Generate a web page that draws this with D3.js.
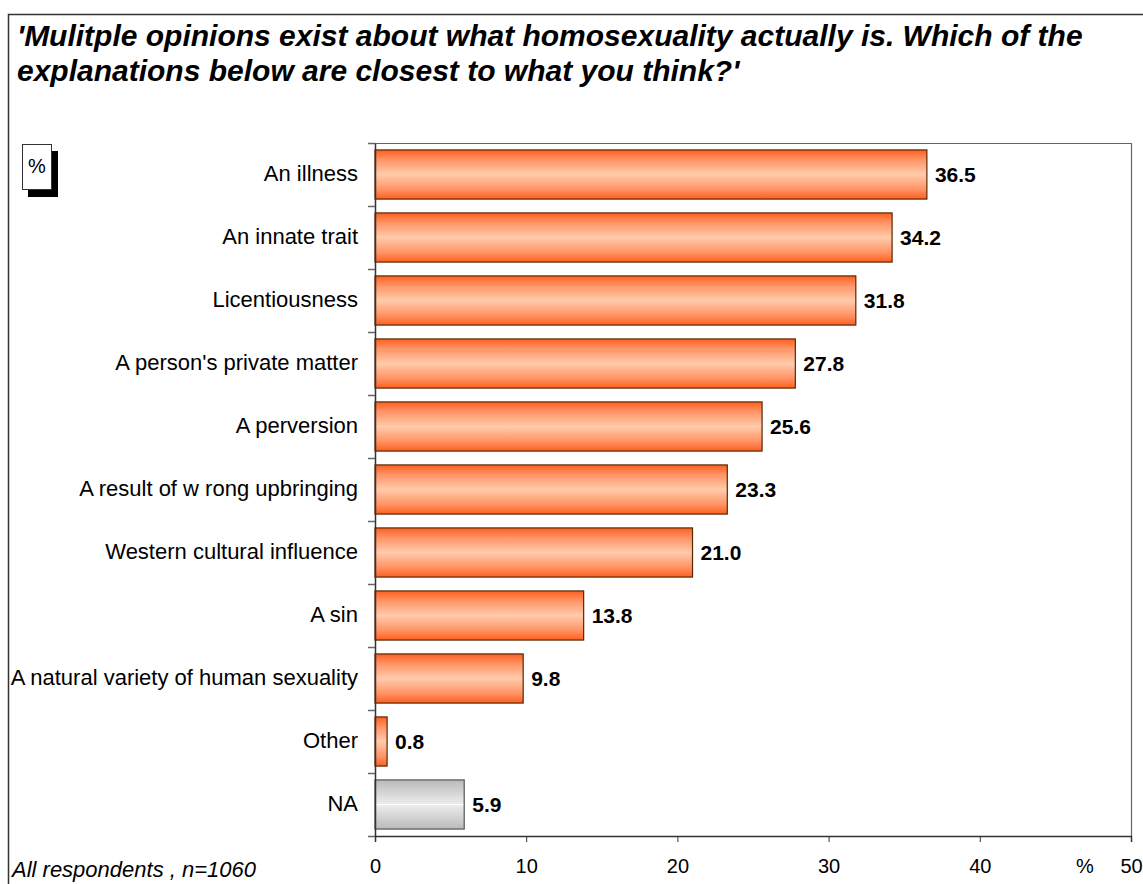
<!DOCTYPE html>
<html>
<head>
<meta charset="utf-8">
<script src="https://cdn.jsdelivr.net/npm/d3@7/dist/d3.min.js"></script>
<style>
  body { margin: 0; background: #fff; }
  text { font-family: "Liberation Sans", Arial, sans-serif; }
</style>
</head>
<body>
<div id="chart"></div>
<script>
// data
const categories = ["An illness", "An innate trait", "Licentiousness", "A person's private matter",
  "A perversion", "A result of w rong upbringing ", "Western cultural influence", "A sin",
  "A natural variety of human sexuality", "Other", "NA"];
const values = [36.5, 34.2, 31.8, 27.8, 25.6, 23.3, 21.0, 13.8, 9.8, 0.8, 5.9];
const xTicks = [0, 10, 20, 30, 40, 50];

const width = 1143, height = 884;
const margin = { top: 143, right: 12, bottom: 48, left: 375 };

const svg = d3.select("#chart").append("svg")
  .attr("width", width)
  .attr("height", height);

// gradients
const defs = svg.append("defs");
const orange = defs.append("linearGradient").attr("id", "gOrange")
  .attr("x1", 0).attr("y1", 0).attr("x2", 0).attr("y2", 1);
[[0, "#ff5f1f"], [0.2, "#ff9466"], [0.5, "#ffcbab"], [0.8, "#ff9466"], [1, "#ff5f1f"]]
  .forEach(s => orange.append("stop").attr("offset", s[0]).attr("stop-color", s[1]));
const grey = defs.append("linearGradient").attr("id", "gGrey")
  .attr("x1", 0).attr("y1", 0).attr("x2", 0).attr("y2", 1);
[[0, "#bababa"], [0.49, "#ececec"], [0.5, "#ffffff"], [0.51, "#ececec"], [1, "#bababa"]]
  .forEach(s => grey.append("stop").attr("offset", s[0]).attr("stop-color", s[1]));

// outer frame
svg.append("path")
  .attr("d", `M8.5,${height} V14.5 H${width}`)
  .attr("fill", "none").attr("stroke", "#333").attr("stroke-width", 1.5);

// title
const title = svg.append("text")
  .style("font-size", "30px").style("font-weight", "bold").style("font-style", "italic");
title.append("tspan").attr("x", 17).attr("y", 46)
  .text("'Mulitple opinions exist about what homosexuality actually is. Which of the");
title.append("tspan").attr("x", 17).attr("y", 81)
  .text("explanations below are closest to what you think?'");

// % box
svg.append("rect").attr("x", 28).attr("y", 151).attr("width", 30).attr("height", 46).attr("fill", "#000");
svg.append("rect").attr("x", 22.5).attr("y", 144.5).attr("width", 29).attr("height", 45)
  .attr("fill", "#fff").attr("stroke", "#333");
svg.append("text").attr("x", 37).attr("y", 173).attr("text-anchor", "middle")
  .style("font-size", "20px").text("%");

const x = d3.scaleLinear().domain([0, 50]).range([margin.left, width - margin.right]);
const y = d3.scaleBand().domain(categories)
  .range([margin.top, height - margin.bottom]).paddingInner(0.22).paddingOuter(0.11);

// plot frame (top + right)
svg.append("path")
  .attr("d", `M${x(0)},${margin.top + 0.5} H${x(50) + 0.5} V${height - margin.bottom}`)
  .attr("fill", "none").attr("stroke", "#666").attr("stroke-width", 1.2);

// bars
svg.selectAll("rect.bar")
  .data(values)
  .enter().append("rect")
  .attr("class", "bar")
  .attr("x", x(0))
  .attr("y", (d, i) => y(categories[i]))
  .attr("width", d => x(d) - x(0))
  .attr("height", y.bandwidth())
  .attr("fill", (d, i) => categories[i] === "NA" ? "url(#gGrey)" : "url(#gOrange)")
  .attr("stroke", (d, i) => categories[i] === "NA" ? "#555" : "#5a2800")
  .attr("stroke-width", 1.2);

// value labels
svg.selectAll("text.val")
  .data(values)
  .enter().append("text")
  .attr("class", "val")
  .attr("x", d => x(d) + 8)
  .attr("y", (d, i) => y(categories[i]) + y.bandwidth() / 2 + 7)
  .style("font-size", "21px").style("font-weight", "bold")
  .text(d => d.toFixed(1));

// category axis
const yAxis = svg.append("g")
  .attr("transform", `translate(${x(0)},0)`)
  .call(d3.axisLeft(y).tickSize(0).tickPadding(17));
yAxis.select(".domain").attr("stroke", "#333").attr("stroke-width", 1.5);
yAxis.selectAll("text").style("font-size", "22px").attr("fill", "#000")
  .style("font-family", "'Liberation Sans', Arial, sans-serif").attr("dy", "0.3em");
// separators between categories
const step = y.step();
svg.selectAll("line.sep")
  .data(d3.range(categories.length + 1))
  .enter().append("line")
  .attr("x1", x(0) - 7).attr("x2", x(0))
  .attr("y1", i => margin.top + i * step + 0.5)
  .attr("y2", i => margin.top + i * step + 0.5)
  .attr("stroke", "#666").attr("stroke-width", 1.5);

// x axis
const xAxis = svg.append("g")
  .attr("transform", `translate(0,${height - margin.bottom})`)
  .call(d3.axisBottom(x).tickValues(xTicks).tickSize(6).tickPadding(17));
xAxis.select(".domain").attr("stroke", "#333").attr("stroke-width", 1.5);
xAxis.selectAll("line").attr("stroke", "#333");
xAxis.selectAll("text").style("font-size", "20px").attr("fill", "#000")
  .style("font-family", "'Liberation Sans', Arial, sans-serif");

svg.append("text").attr("x", 1085).attr("y", 873).attr("text-anchor", "middle")
  .style("font-size", "20px").text("%");

// footnote
svg.append("text").attr("x", 12).attr("y", 877)
  .style("font-size", "22px").style("font-style", "italic")
  .text("All respondents , n=1060");
</script>
</body>
</html>
